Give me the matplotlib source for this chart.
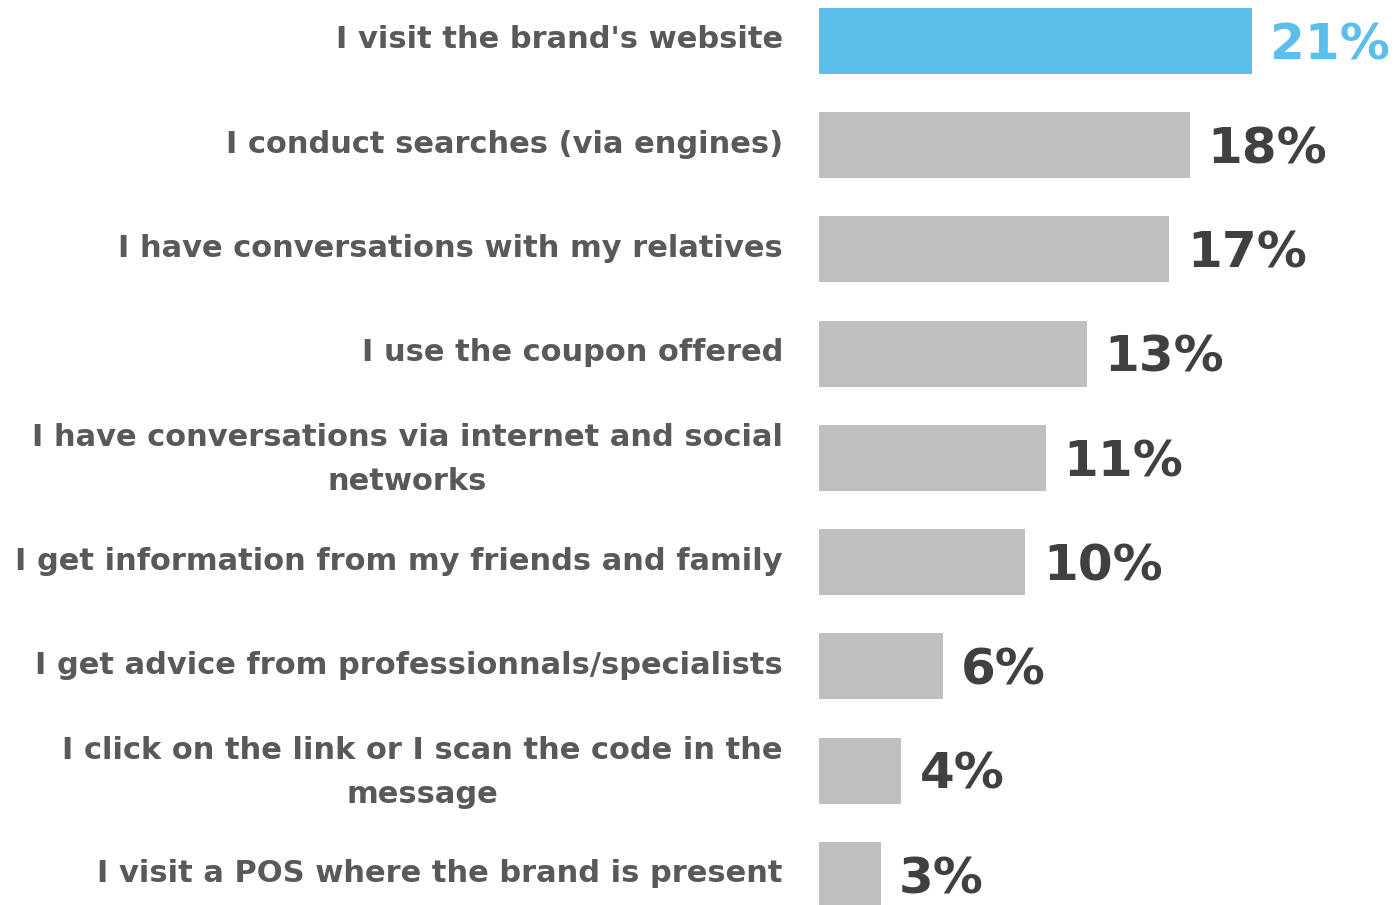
import matplotlib
matplotlib.use("Agg")
import matplotlib.pyplot as plt
from matplotlib.transforms import ScaledTranslation

categories = [
    "I visit the brand's website",
    "I conduct searches (via engines)",
    "I have conversations with my relatives",
    "I use the coupon offered",
    "I have conversations via internet and social\nnetworks",
    "I get information from my friends and family",
    "I get advice from professionnals/specialists",
    "I click on the link or I scan the code in the\nmessage",
    "I visit a POS where the brand is present",
]
values = [21, 18, 17, 13, 11, 10, 6, 4, 3]
highlight = 0

BLUE = "#5bbfec"
GREY = "#bfbfbf"
LABEL_COLOR = "#595959"
VALUE_COLOR = "#404040"

plt.rcParams["font.family"] = ["DejaVu Sans"]

fig = plt.figure(figsize=(13.99, 9.05), dpi=100)
W, H = 1399, 905
ax = fig.add_axes([819 / W, 0, 1 - 819 / W, 1])

px_per_unit = 20.6
pitch = 104.25
ax.set_xlim(0, (W - 819) / px_per_unit)
ax.set_ylim((H - 41) / pitch, -41 / pitch)

ypos = list(range(len(values)))
colors = [BLUE if i == highlight else GREY for i in ypos]
ax.barh(ypos, values, height=66 / pitch, color=colors, edgecolor="none")

for i, v in enumerate(values):
    ax.text(v + 18 / px_per_unit, i + 0.04, f"{v}%", va="center", ha="left",
            fontsize=36, fontweight="bold",
            color=BLUE if i == highlight else VALUE_COLOR)

ax.set_yticks(ypos)
ax.set_yticklabels(categories, fontsize=22, fontweight="bold",
                   color=LABEL_COLOR, ha="right", multialignment="center",
                   linespacing=1.65)
ax.tick_params(axis="y", length=0, pad=26)
# nudge the category labels up a few pixels (wrapped ones a bit more)
for lab in ax.get_yticklabels():
    dy = 9 if "\n" in lab.get_text() else 4
    shift = ScaledTranslation(0, dy / 100, fig.dpi_scale_trans)
    lab.set_transform(lab.get_transform() + shift)
ax.set_xticks([])
for s in ax.spines.values():
    s.set_visible(False)

fig.savefig("out.png", dpi=100)
